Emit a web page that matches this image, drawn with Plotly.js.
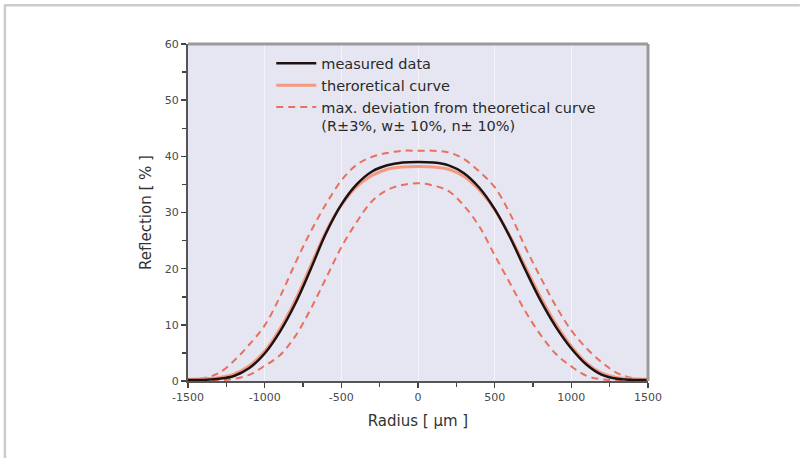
<!DOCTYPE html>
<html>
<head>
<meta charset="utf-8">
<script src="https://cdn.plot.ly/plotly-3.0.1.min.js"></script>
<style>html,body{margin:0;padding:0;background:#fff;}#chart{width:801px;height:458px;}</style>
</head>
<body>
<div id="chart"></div>
<script>
const radius = [-1500,-1400,-1300,-1200,-1100,-1000,-900,-800,-700,-600,-500,-400,-300,-200,-100,0,100,200,300,400,500,600,700,800,900,1000,1100,1200,1300,1400,1500];
const measured = [0.2,0.2,0.4,0.9,2.3,4.9,8.8,13.8,19.9,26.3,31.4,35.0,37.3,38.4,38.9,39.0,38.9,38.4,37.0,34.4,30.6,25.6,19.8,14.3,9.6,5.8,2.9,1.1,0.4,0.2,0.2];
const theoretical = [0.3,0.4,0.6,1.2,2.7,5.3,9.3,14.4,20.5,26.6,31.3,34.6,36.6,37.7,38.1,38.2,38.1,37.7,36.4,34.0,30.5,25.8,20.3,14.9,10.1,6.2,3.2,1.4,0.6,0.4,0.3];
const devUpper = [0.2,0.5,1.4,3.6,6.5,9.9,15.0,21.0,26.6,31.5,35.7,38.5,39.9,40.6,41.0,41.0,41.0,40.7,39.5,37.3,34.5,29.8,23.8,18.4,13.3,9.0,5.8,3.3,1.4,0.5,0.2];
const devLower = [0.0,0.0,0.1,0.4,1.1,2.7,4.6,8.0,12.8,18.3,23.8,28.3,32.0,34.0,34.9,35.2,34.8,33.8,31.2,27.5,22.4,17.4,12.4,8.2,4.8,2.6,0.9,0.3,0.1,0.0,0.0];
const xTicks = [-1500,-1000,-500,0,500,1000,1500];
const yTicks = [0,10,20,30,40,50,60];
const names = ["measured data","theroretical curve","max. deviation from theoretical curve<br>(R±3%, w± 10%, n± 10%)"];

const dashColor = "#e8705c";
const traces = [
  {x: radius, y: measured, name: names[0], mode: "lines", line: {color: "#1e1212", width: 2.5, shape: "spline"}, legendrank: 1},
  {x: radius, y: theoretical, name: names[1], mode: "lines", line: {color: "#f39a80", width: 3, shape: "spline"}, legendrank: 2},
  {x: radius, y: devUpper, name: names[2], mode: "lines", line: {color: dashColor, width: 2, dash: "7px,5px", shape: "spline"}, legendrank: 3},
  {x: radius, y: devLower, name: names[2], mode: "lines", showlegend: false, line: {color: dashColor, width: 2, dash: "7px,5px", shape: "spline"}}
];
const data = [traces[2], traces[3], traces[1], traces[0]];

const fam = "DejaVu Sans, Arial, sans-serif";
const tickFont = {family: fam, size: 11, color: "#4a4a4a"};
const layout = {
  width: 801, height: 458,
  margin: {l: 188, r: 153, t: 44, b: 77},
  paper_bgcolor: "#ffffff",
  plot_bgcolor: "#e6e6f3",
  showlegend: true,
  legend: {
    x: 0.181, y: 0.99, xanchor: "left", yanchor: "top",
    bgcolor: "rgba(0,0,0,0)", borderwidth: 0,
    font: {family: fam, size: 14.5, color: "#2a2a2a"},
    valign: "top", traceorder: "normal", itemwidth: 40
  },
  xaxis: {
    range: [-1500, 1500], tickvals: xTicks, ticktext: xTicks.map(String),
    ticks: "outside", ticklen: 5, tickwidth: 1.5, tickcolor: "#444",
    minor: {dtick: 250, ticks: "outside", ticklen: 4, tickcolor: "#444", showgrid: false},
    showline: true, linecolor: "#555", linewidth: 2,
    showgrid: true, gridcolor: "rgba(255,255,255,0.5)", gridwidth: 1,
    zeroline: false, tickfont: tickFont,
    title: {text: "Radius [ µm ]", font: {family: fam, size: 15, color: "#333"}, standoff: 12}
  },
  yaxis: {
    range: [0, 60], tickvals: yTicks, ticktext: yTicks.map(String),
    ticks: "outside", ticklen: 5, tickwidth: 1.5, tickcolor: "#444",
    minor: {dtick: 5, ticks: "outside", ticklen: 4, tickcolor: "#444", showgrid: false},
    showline: true, linecolor: "#555", linewidth: 2,
    showgrid: false, zeroline: false, tickfont: tickFont,
    title: {text: "Reflection [ % ]", font: {family: fam, size: 15, color: "#333"}, standoff: 10}
  },
  shapes: [
    {type: "line", xref: "paper", yref: "paper", x0: 0, x1: 1, y0: 1, y1: 1, line: {color: "#9a9a9a", width: 3}},
    {type: "line", xref: "paper", yref: "paper", x0: 1, x1: 1, y0: 0, y1: 1, line: {color: "#9a9a9a", width: 3}},
    {type: "line", xref: "paper", yref: "paper", x0: -0.4, x1: 1.33, y0: 1.115, y1: 1.115, line: {color: "#cccccc", width: 2.5}},
    {type: "line", xref: "paper", yref: "paper", x0: -0.398, x1: -0.398, y0: -0.23, y1: 1.115, line: {color: "#cccccc", width: 2.5}}
  ]
};
Plotly.newPlot("chart", data, layout, {displayModeBar: false, staticPlot: true});
</script>
</body>
</html>
